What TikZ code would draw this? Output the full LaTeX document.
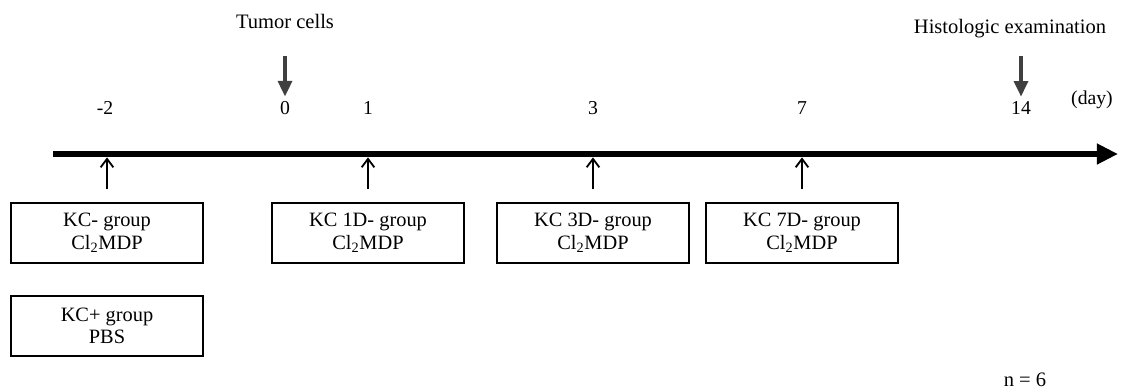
\documentclass[tikz,border=0pt]{standalone}
\usepackage{fontspec}
\setmainfont{Liberation Serif}
\usetikzlibrary{arrows.meta}

\tikzset{
  groupbox/.style={rectangle, draw, line width=0.9pt, minimum width=4.8cm,
    minimum height=1.5cm, inner sep=0pt, align=center,
    font=\fontsize{14.5}{16}\selectfont},
  daylabel/.style={font=\fontsize{14}{16}\selectfont},
  eventlabel/.style={font=\fontsize{14.6}{16}\selectfont},
  dose/.style={line width=1.3pt, -{Straight Barb[length=6pt, width=9pt]}},
  event/.style={draw=black!75, line width=2.2pt, -{Triangle[length=11pt, width=10pt]}},
}

\begin{document}
\begin{tikzpicture}[x=0.025cm, y=-0.025cm]
  \useasboundingbox (0, 0) rectangle (1123, 391);

  % time axis
  \coordinate (start) at (53, 154);
  \coordinate (end) at (1118, 154);
  \draw[line width=4.3pt, -{Triangle[length=15pt, width=14pt]}] (start) -- (end);

  % days
  \node (dm2) [daylabel] at (105, 108) {-2};
  \node (d0)  [daylabel] at (285, 108) {0};
  \node (d1)  [daylabel] at (368, 108) {1};
  \node (d3)  [daylabel] at (593, 108) {3};
  \node (d7)  [daylabel] at (802, 108) {7};
  \node (d14) [daylabel] at (1021, 108) {14};
  \node (unit) [daylabel] at (1092, 100) {(day)};

  % events above the axis
  \node (tumor) [eventlabel] at (285, 21) {Tumor cells};
  \node (histo) [eventlabel] at (1010, 29) {Histologic examination};
  \coordinate (tumortop) at (285, 56);
  \coordinate (histotop) at (1021, 56);
  \draw[event] (tumortop) -- (d0.north);
  \draw[event] (histotop) -- (d14.north);

  % treatment groups
  \node (kcm) [groupbox] at (107, 233) {KC- group\\Cl\textsubscript{2}MDP};
  \node (kcp) [groupbox] at (107, 326) {KC+ group\\PBS};
  \node (kc1) [groupbox] at (368, 233) {KC 1D- group\\Cl\textsubscript{2}MDP};
  \node (kc3) [groupbox] at (593, 233) {KC 3D- group\\Cl\textsubscript{2}MDP};
  \node (kc7) [groupbox] at (802, 233) {KC 7D- group\\Cl\textsubscript{2}MDP};

  % injections
  \foreach \g in {kcm, kc1, kc3, kc7}
    \draw[dose] ([yshift=0.325cm]\g.north) -- ([yshift=1.125cm]\g.north);

  \node (size) [eventlabel] at (1025, 380) {n = 6};
\end{tikzpicture}
\end{document}
